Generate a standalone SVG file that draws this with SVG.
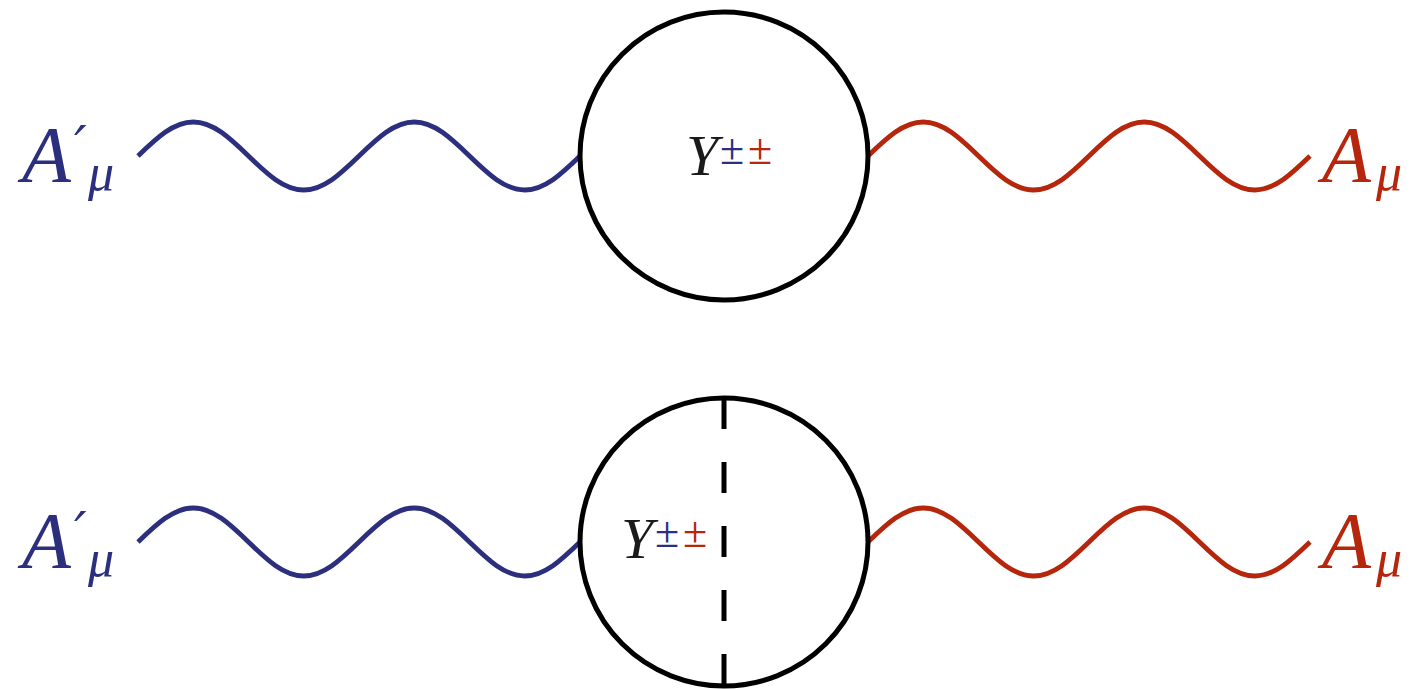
<svg xmlns="http://www.w3.org/2000/svg" width="1418" height="689" viewBox="0 0 1418 689">
<style>
.blue{fill:none;stroke:#2b2f7e;stroke-width:4.8;stroke-linecap:butt}
.red{fill:none;stroke:#b5260c;stroke-width:4.8;stroke-linecap:butt}
.loop{fill:none;stroke:#000;stroke-width:5}
.cut{fill:none;stroke:#000;stroke-width:5;stroke-dasharray:31 33}
.lbl{font-family:"Liberation Serif","Times New Roman",serif;font-style:italic}
.tb{fill:#2b2f7e}.tr{fill:#b5260c}.tk{fill:#1a1a1a}
.pm{font-family:"Liberation Serif","Times New Roman",serif;font-style:normal;font-size:44px}
.pr{font-family:"DejaVu Serif",serif;font-style:italic;font-size:56px}
</style>
<defs>
<path id="wave" d="M0,0 c18.47,-17.85 35.36,-34 55.25,-34 s36.78,16.15 55.25,34 s35.36,34 55.25,34 s36.78,-16.15 55.25,-34 s35.36,-34 55.25,-34 s36.78,16.15 55.25,34 s35.36,34 55.25,34 s36.78,-16.15 55.25,-34"/>
</defs>
<g id="connectors">
<use href="#wave" class="blue" x="138" y="156"/>
<use href="#wave" class="red" x="868" y="156"/>
<use href="#wave" class="blue" x="138" y="542"/>
<use href="#wave" class="red" x="868" y="542"/>
</g>
<g id="loop-top">
<circle class="loop" cx="724" cy="156" r="144"/>
<text class="lbl tk" x="686" y="175" font-size="58">Y</text>
<text class="pm tb" x="720" y="164">±</text>
<text class="pm tr" x="748" y="164">±</text>
</g>
<g id="loop-bottom">
<circle class="loop" cx="724" cy="542" r="144"/>
<line class="cut" x1="724" y1="398" x2="724" y2="686"/>
<text class="lbl tk" x="621" y="558" font-size="58">Y</text>
<text class="pm tb" x="655" y="547">±</text>
<text class="pm tr" x="683" y="547">±</text>
</g>
<g id="label-left-top" class="lbl tb">
<text x="22" y="182" font-size="80">A</text>
<text class="pr" x="74" y="166">′</text>
<text x="88" y="190" font-size="52">μ</text>
</g>
<g id="label-right-top" class="lbl tr">
<text x="1322" y="182" font-size="80">A</text>
<text x="1376" y="190" font-size="52">μ</text>
</g>
<g id="label-left-bottom" class="lbl tb">
<text x="22" y="568" font-size="80">A</text>
<text class="pr" x="74" y="552">′</text>
<text x="88" y="576" font-size="52">μ</text>
</g>
<g id="label-right-bottom" class="lbl tr">
<text x="1322" y="568" font-size="80">A</text>
<text x="1376" y="576" font-size="52">μ</text>
</g>
</svg>
